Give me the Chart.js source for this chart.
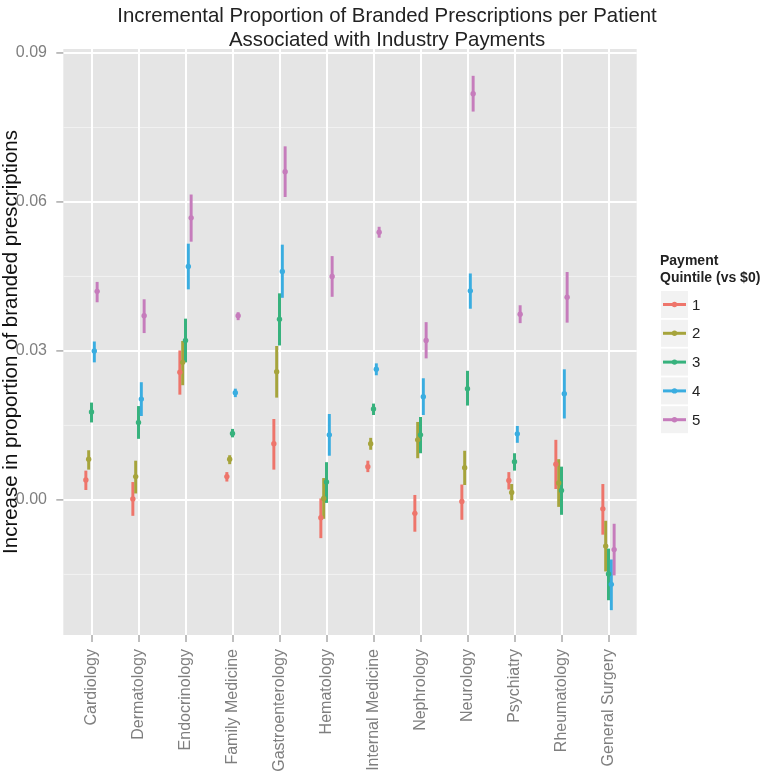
<!DOCTYPE html>
<html>
<head>
<meta charset="utf-8">
<script src="https://cdn.jsdelivr.net/npm/chart.js@4"></script>
<style>
  body { margin: 0; background: #fff; }
  #wrap { width: 774px; height: 772px; position: relative; }
</style>
</head>
<body>
<div id="wrap"><canvas id="canva"></canvas></div>
<script>
const categories = ["Cardiology", "Dermatology", "Endocrinology", "Family Medicine", "Gastroenterology",
  "Hematology", "Internal Medicine", "Nephrology", "Neurology", "Psychiatry", "Rheumatology", "General Surgery"];
const quintiles = ["1", "2", "3", "4", "5"];
const colors = ["#ee756b", "#a6a43c", "#37b27d", "#3aade0", "#c67cbc"];
const yTicks = [0, 0.03, 0.06, 0.09];
const titleLines = ["Incremental Proportion of Branded Prescriptions per Patient", "Associated with Industry Payments"];

// point estimates and interval ends, one array per quintile
const est1 = [0.0040, 0.0002, 0.0257, 0.0047, 0.0113, -0.0036, 0.0067, -0.0027, -0.0003, 0.0039, 0.0072, -0.0018];
const lo1 = [0.0020, -0.0032, 0.0212, 0.0037, 0.0061, -0.0077, 0.0056, -0.0064, -0.0040, 0.0021, 0.0022, -0.0070];
const hi1 = [0.0059, 0.0036, 0.0301, 0.0056, 0.0163, 0.0003, 0.0079, 0.0010, 0.0031, 0.0056, 0.0121, 0.0032];

const est2 = [0.0082, 0.0047, 0.0277, 0.0082, 0.0258, 0.0003, 0.0113, 0.0121, 0.0065, 0.0015, 0.0034, -0.0093];
const lo2 = [0.0061, 0.0013, 0.0231, 0.0072, 0.0206, -0.0038, 0.0101, 0.0084, 0.0030, -0.0001, -0.0014, -0.0144];
const hi2 = [0.0100, 0.0079, 0.0320, 0.0090, 0.0310, 0.0044, 0.0125, 0.0157, 0.0099, 0.0032, 0.0082, -0.0042];

const est3 = [0.0177, 0.0156, 0.0321, 0.0134, 0.0364, 0.0036, 0.0183, 0.0131, 0.0224, 0.0077, 0.0019, -0.0149];
const lo3 = [0.0156, 0.0123, 0.0277, 0.0126, 0.0311, -0.0006, 0.0171, 0.0094, 0.0190, 0.0059, -0.0030, -0.0202];
const hi3 = [0.0196, 0.0189, 0.0365, 0.0143, 0.0416, 0.0076, 0.0194, 0.0167, 0.0260, 0.0094, 0.0067, -0.0098];

const est4 = [0.0300, 0.0203, 0.0470, 0.0216, 0.0460, 0.0131, 0.0263, 0.0208, 0.0421, 0.0133, 0.0214, -0.0170];
const lo4 = [0.0277, 0.0169, 0.0424, 0.0207, 0.0407, 0.0089, 0.0251, 0.0171, 0.0385, 0.0115, 0.0164, -0.0222];
const hi4 = [0.0319, 0.0237, 0.0516, 0.0224, 0.0514, 0.0173, 0.0275, 0.0245, 0.0456, 0.0149, 0.0263, -0.0120];

const est5 = [0.0420, 0.0371, 0.0568, 0.0371, 0.0661, 0.0450, 0.0539, 0.0321, 0.0818, 0.0374, 0.0408, -0.0100];
const lo5 = [0.0398, 0.0336, 0.0520, 0.0362, 0.0610, 0.0409, 0.0528, 0.0285, 0.0782, 0.0356, 0.0357, -0.0152];
const hi5 = [0.0439, 0.0404, 0.0615, 0.0378, 0.0712, 0.0491, 0.0550, 0.0358, 0.0854, 0.0392, 0.0459, -0.0048];

const ests = [est1, est2, est3, est4, est5];
const los = [lo1, lo2, lo3, lo4, lo5];
const his = [hi1, hi2, hi3, hi4, hi5];

const FONT = "'Liberation Sans', Arial, sans-serif";

const isMajor = (v) => yTicks.some(t => Math.abs(t - v) < 1e-9);

// grey panel (ggplot pads discrete axes by 0.6 of a category), horizontal grid and y tick marks
const panelBg = {
  id: "panelBg",
  beforeDraw(chart) {
    const { ctx, chartArea: a } = chart;
    const x = chart.scales.x, y = chart.scales.y;
    const pad = 0.1 * (x.getPixelForValue(1) - x.getPixelForValue(0));
    const left = a.left - pad, right = a.right + pad;
    ctx.save();
    ctx.fillStyle = "#e5e5e5";
    ctx.fillRect(left, a.top, right - left, a.bottom - a.top);
    const sorted = y.ticks.slice().sort((p, q) => isMajor(p.value) - isMajor(q.value));
    sorted.forEach((t) => {
      const py = y.getPixelForValue(t.value);
      const major = isMajor(t.value);
      ctx.strokeStyle = major ? "#ffffff" : "#f2f2f2";
      ctx.lineWidth = major ? 2 : 1;
      ctx.beginPath();
      ctx.moveTo(left, py);
      ctx.lineTo(right, py);
      ctx.stroke();
      if (major) {
        ctx.strokeStyle = "#7f7f7f";
        ctx.lineWidth = 1;
        ctx.beginPath();
        ctx.moveTo(left - 7, py);
        ctx.lineTo(left, py);
        ctx.stroke();
      }
    });
    ctx.restore();
  },
};

// draw ranges quintile 1 -> 5 (later ones on top), then all the estimate dots
const rangesAndPoints = {
  id: "rangesAndPoints",
  beforeDatasetsDraw(chart) {
    const { ctx } = chart;
    const y = chart.scales.y;
    for (let s = 0; s < quintiles.length; s++) {
      chart.getDatasetMeta(s).controller.draw();
    }
    ctx.save();
    for (let s = 0; s < quintiles.length; s++) {
      ctx.fillStyle = colors[s];
      chart.getDatasetMeta(s).data.forEach((bar, i) => {
        ctx.beginPath();
        ctx.arc(bar.x, y.getPixelForValue(ests[s][i]), 2.7, 0, Math.PI * 2);
        ctx.fill();
      });
    }
    ctx.restore();
    return false;
  },
};

// title centred over the whole page, ggplot-style legend with grey keys
const titleAndLegend = {
  id: "titleAndLegend",
  afterDraw(chart) {
    const { ctx } = chart;
    ctx.save();
    ctx.fillStyle = "#222";
    ctx.textAlign = "center";
    ctx.textBaseline = "alphabetic";
    ctx.font = "20.4px " + FONT;
    titleLines.forEach((t, k) => ctx.fillText(t, chart.width / 2, 22 + k * 24));

    const x0 = 660, top = 291, step = 28.8, key = 27;
    ctx.textAlign = "left";
    ctx.font = "bold 14px " + FONT;
    ctx.fillText("Payment", x0, 265);
    ctx.fillText("Quintile (vs $0)", x0, 282);
    ctx.font = "15px " + FONT;
    quintiles.forEach((q, s) => {
      const yTop = top + s * step;
      ctx.fillStyle = "#f2f2f2";
      ctx.fillRect(x0 + 1, yTop, key, key);
      const cy = yTop + key / 2;
      ctx.strokeStyle = colors[s];
      ctx.lineWidth = 3;
      ctx.beginPath();
      ctx.moveTo(x0 + 3, cy);
      ctx.lineTo(x0 + key - 1, cy);
      ctx.stroke();
      ctx.fillStyle = colors[s];
      ctx.beginPath();
      ctx.arc(x0 + 1 + key / 2, cy, 2.7, 0, Math.PI * 2);
      ctx.fill();
      ctx.fillStyle = "#222";
      ctx.textBaseline = "middle";
      ctx.fillText(q, x0 + 32, cy + 1);
    });
    ctx.restore();
  },
};

const datasets = quintiles.map((q, s) => ({
  label: q,
  data: categories.map((c, i) => [los[s][i], his[s][i]]),
  backgroundColor: colors[s],
  borderWidth: 0,
  categoryPercentage: 0.3,
  barPercentage: 1.05,
}));

const config = {
  type: "bar",
  data: { labels: categories, datasets: datasets },
  options: {
    responsive: true,
    maintainAspectRatio: false,
    animation: false,
    layout: { padding: { left: 0, right: 142, top: 49, bottom: 0 } },
    plugins: {
      legend: { display: false },
      tooltip: { enabled: false },
      title: { display: false },
    },
    scales: {
      x: {
        offset: true,
        grid: { offset: false, color: "#ffffff", lineWidth: 2, tickColor: "#7f7f7f", tickLength: 7, tickWidth: 1 },
        border: { display: false },
        ticks: { color: "#7f7f7f", font: { family: FONT, size: 16 }, minRotation: 90, maxRotation: 90, padding: 7, autoSkip: false },
        afterFit(scale) { scale.height = 137; },
      },
      y: {
        min: -0.0272,
        max: 0.0908,
        afterBuildTicks(scale) {
          const list = [];
          for (let k = 0; k < yTicks.length; k++) {
            list.push({ value: yTicks[k] });
            if (k > 0) list.push({ value: (yTicks[k] + yTicks[k - 1]) / 2 });
          }
          list.push({ value: yTicks[0] - (yTicks[1] - yTicks[0]) / 2 });
          list.sort((a, b) => a.value - b.value);
          scale.ticks = list;
        },
        grid: { display: false },
        border: { display: false },
        ticks: {
          color: "#7f7f7f",
          font: { family: FONT, size: 16 },
          padding: 13,
          callback: (v) => (isMajor(v) ? v.toFixed(2) : ""),
        },
        title: {
          display: true,
          text: "Increase in proportion of branded prescriptions",
          color: "#111",
          font: { family: FONT, size: 20.5, lineHeight: 1.1 },
          padding: { top: 0, bottom: 0 },
        },
        afterFit(scale) { scale.width = 68; },
      },
    },
  },
  plugins: [panelBg, rangesAndPoints, titleAndLegend],
};

const myChart = new Chart(document.getElementById("canva"), config);
</script>
</body>
</html>
